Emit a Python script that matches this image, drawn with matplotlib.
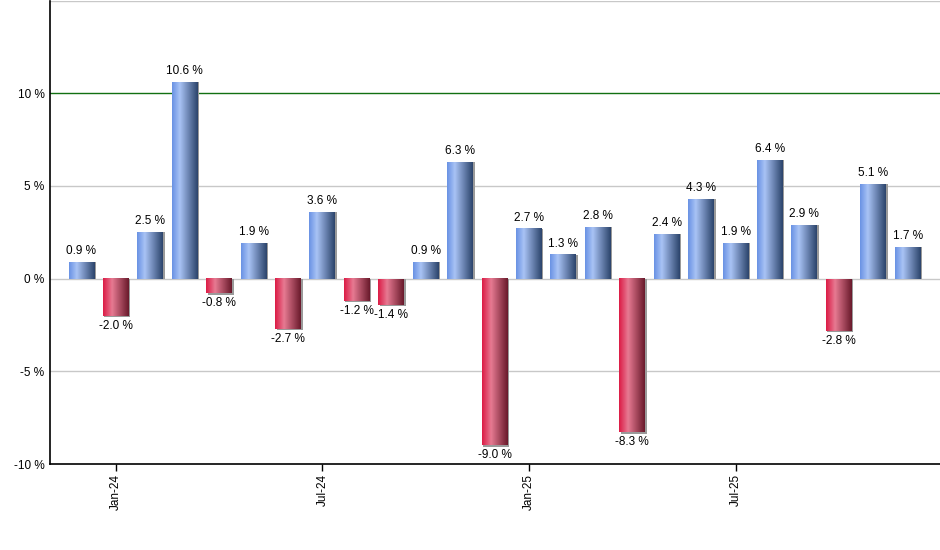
import matplotlib
matplotlib.use("Agg")
import matplotlib.pyplot as plt
import numpy as np
from matplotlib.colors import LinearSegmentedColormap

values = [0.9, -2.0, 2.5, 10.6, -0.8, 1.9, -2.7, 3.6, -1.2, -1.4, 0.9, 6.3,
          -9.0, 2.7, 1.3, 2.8, -8.3, 2.4, 4.3, 1.9, 6.4, 2.9, -2.8, 5.1, 1.7]
tick_positions = [1, 7, 13, 19]
tick_labels = ["Jan-24", "Jul-24", "Jan-25", "Jul-25"]
y_ticks = [-10, -5, 0, 5, 10]

plt.rcParams['font.family'] = ['Liberation Sans', 'DejaVu Sans']

fig = plt.figure(figsize=(9.4, 5.5), dpi=100)
ax = fig.add_axes([50/940, 1-464/550, 1-50/940, 464/550 - 0.001])

blue = LinearSegmentedColormap.from_list("b", [(0, "#6a92e4"), (0.3, "#a9c3f5"), (1, "#2c446c")])
red = LinearSegmentedColormap.from_list("r", [(0, "#dc1c46"), (0.35, "#e67a92"), (1, "#6a1a2c")])
grad = np.linspace(0, 1, 64).reshape(1, -1)

w = 0.755
px_x = 1/34.42
px_y = 25/464
for i, v in enumerate(values):
    x0, x1 = i - w/2, i + w/2
    # shadow
    sh = v if v >= 0 else v - 1.5*px_y
    ax.add_patch(plt.Rectangle((x0 + 1.5*px_x, 0), w, sh,
                               facecolor="#9a9a9a", edgecolor="none", zorder=2))
    cmap = blue if v >= 0 else red
    ax.imshow(grad, cmap=cmap, extent=[x0, x1, 0, v] if v >= 0 else [x0, x1, v, 0],
              aspect='auto', origin='lower', zorder=3, interpolation='bilinear')
    if v >= 0:
        ax.text(i, v + 5*px_y, f"{v:.1f} %", ha='center', va='bottom', fontsize=8.5, zorder=4)
    else:
        ax.text(i, v - 4*px_y, f"{v:.1f} %", ha='center', va='top', fontsize=8.5, zorder=4)

ax.set_xlim(-0.915, 24.94)
ax.set_ylim(-10, 15)

for yv in [-5, 0, 5, 15]:
    ax.axhline(yv, color="#c8c8c8", lw=1, zorder=1)
ax.axhline(10, color="#127012", lw=1, zorder=1)

ax.set_yticks(y_ticks)
ax.set_yticklabels([f"{t} %" for t in y_ticks], fontsize=8.5)
ax.tick_params(axis='y', length=0, pad=4)
ax.set_xticks(tick_positions)
ax.set_xticklabels(tick_labels, rotation=90, fontsize=8.5)
ax.tick_params(axis='x', length=5, direction='out', width=1, pad=2)

for s in ['top', 'right']:
    ax.spines[s].set_visible(False)
ax.spines['left'].set_color('black')
ax.spines['bottom'].set_color('black')
ax.spines['left'].set_linewidth(1.2)
ax.spines['bottom'].set_linewidth(1.2)

fig.savefig("out.png", dpi=100)
